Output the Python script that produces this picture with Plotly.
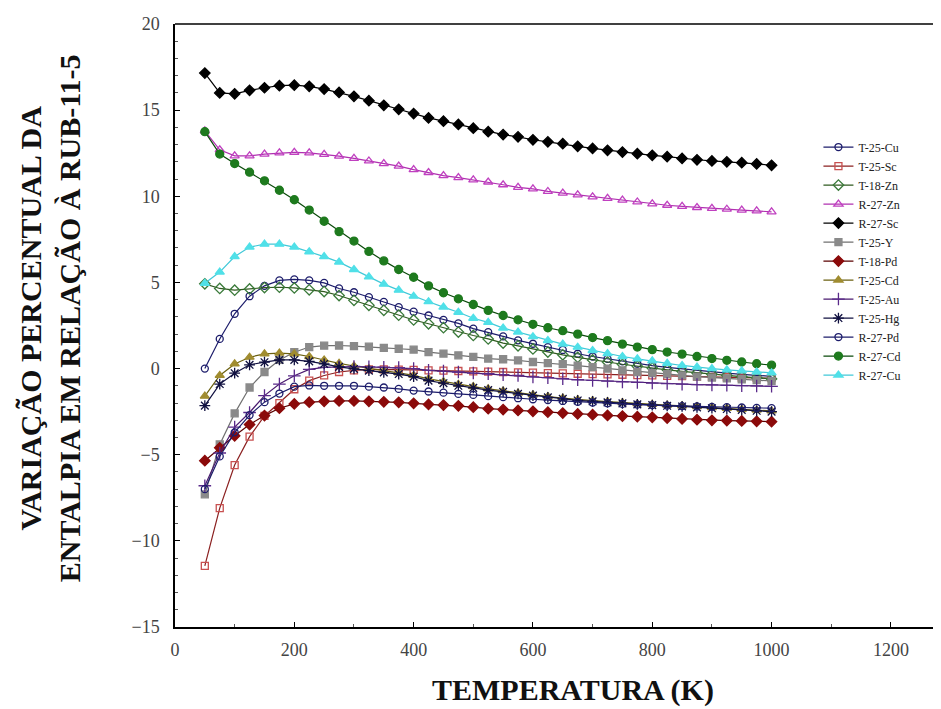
import plotly.graph_objects as go

temperatura = [50, 75, 100, 125, 150, 175, 200, 225, 250, 275, 300, 325, 350, 375, 400,
               425, 450, 475, 500, 525, 550, 575, 600, 625, 650, 675, 700, 725, 750, 775,
               800, 825, 850, 875, 900, 925, 950, 975, 1000]

t25_cu = [0.0, 1.72, 3.18, 4.2, 4.8, 5.12, 5.18, 5.12, 4.97, 4.65, 4.43, 4.15, 3.87, 3.57, 3.3,
          3.08, 2.83, 2.62, 2.32, 2.11, 1.87, 1.64, 1.44, 1.24, 1.08, 0.86, 0.7, 0.56, 0.42, 0.28,
          0.17, 0.07, -0.02, -0.12, -0.2, -0.27, -0.34, -0.4, -0.45]
t25_sc = [-11.45, -8.1, -5.6, -3.95, -2.75, -2.0, -1.2, -0.7, -0.4, -0.2, -0.1, -0.05, -0.05, -0.06, -0.08,
          -0.1, -0.12, -0.14, -0.16, -0.18, -0.2, -0.22, -0.24, -0.26, -0.28, -0.3, -0.32, -0.34, -0.36, -0.38,
          -0.4, -0.42, -0.44, -0.46, -0.48, -0.5, -0.52, -0.54, -0.56]
t18_zn = [4.92, 4.65, 4.55, 4.62, 4.7, 4.72, 4.68, 4.57, 4.47, 4.24, 3.96, 3.67, 3.38, 3.1, 2.82,
          2.6, 2.37, 2.12, 1.92, 1.72, 1.48, 1.32, 1.14, 0.96, 0.8, 0.65, 0.5, 0.38, 0.25, 0.13,
          0.03, -0.07, -0.16, -0.25, -0.33, -0.4, -0.47, -0.53, -0.6]
r27_zn = [13.8, 12.7, 12.35, 12.35, 12.45, 12.52, 12.55, 12.52, 12.43, 12.33, 12.2, 12.05, 11.9, 11.75, 11.55,
          11.38, 11.2, 11.08, 10.95, 10.83, 10.67, 10.52, 10.43, 10.28, 10.18, 10.08, 9.97, 9.88, 9.78, 9.67,
          9.56, 9.48, 9.42, 9.35, 9.3, 9.25, 9.2, 9.15, 9.1]
r27_sc = [17.15, 16.0, 15.95, 16.15, 16.3, 16.42, 16.45, 16.38, 16.22, 16.03, 15.8, 15.55, 15.28, 15.05, 14.8,
          14.55, 14.36, 14.17, 13.95, 13.75, 13.58, 13.45, 13.28, 13.16, 13.05, 12.9, 12.78, 12.67, 12.57, 12.47,
          12.38, 12.3, 12.2, 12.12, 12.05, 12.0, 11.95, 11.88, 11.8]
t25_y = [-7.3, -4.4, -2.6, -1.1, -0.2, 0.5, 0.95, 1.25, 1.33, 1.34, 1.3, 1.27, 1.2, 1.15, 1.1,
         0.95, 0.87, 0.77, 0.68, 0.58, 0.54, 0.47, 0.38, 0.32, 0.26, 0.17, 0.08, 0.0, -0.1, -0.2,
         -0.27, -0.32, -0.4, -0.47, -0.52, -0.57, -0.62, -0.67, -0.72]
t18_pd = [-5.35, -4.6, -3.9, -3.25, -2.73, -2.3, -2.05, -1.95, -1.9, -1.88, -1.88, -1.9, -1.93, -1.96, -2.02,
          -2.08, -2.12, -2.16, -2.24, -2.33, -2.38, -2.43, -2.48, -2.53, -2.58, -2.63, -2.68, -2.72, -2.76, -2.79,
          -2.83, -2.87, -2.92, -2.97, -3.0, -3.02, -3.04, -3.06, -3.08]
t25_cd = [-1.6, -0.4, 0.27, 0.66, 0.85, 0.9, 0.85, 0.7, 0.5, 0.3, 0.15, 0.0, -0.12, -0.25, -0.4,
          -0.6, -0.76, -0.92, -1.05, -1.18, -1.3, -1.42, -1.52, -1.62, -1.71, -1.8, -1.86, -1.92, -1.98, -2.04,
          -2.08, -2.12, -2.16, -2.21, -2.26, -2.31, -2.36, -2.41, -2.46]
t25_au = [-6.8, -4.9, -3.4, -2.55, -1.57, -0.9, -0.42, -0.05, 0.07, 0.1, 0.12, 0.1, 0.08, 0.06, 0.0,
          -0.1, -0.15, -0.2, -0.26, -0.3, -0.35, -0.4, -0.48, -0.53, -0.59, -0.65, -0.69, -0.73, -0.77, -0.8,
          -0.84, -0.87, -0.9, -0.93, -0.95, -0.97, -0.99, -1.01, -1.03]
t25_hg = [-2.15, -0.9, -0.27, 0.22, 0.37, 0.5, 0.5, 0.42, 0.27, 0.1, -0.02, -0.12, -0.22, -0.32, -0.47,
          -0.7, -0.85, -1.0, -1.12, -1.25, -1.35, -1.47, -1.57, -1.67, -1.76, -1.85, -1.9, -1.96, -2.02, -2.08,
          -2.12, -2.16, -2.2, -2.25, -2.3, -2.35, -2.4, -2.45, -2.5]
r27_pd = [-7.0, -5.1, -3.7, -2.7, -1.95, -1.45, -1.05, -0.98, -1.0, -1.0, -1.0, -1.05, -1.1, -1.18, -1.28,
          -1.33, -1.4, -1.47, -1.53, -1.6, -1.66, -1.72, -1.78, -1.83, -1.88, -1.93, -1.97, -2.01, -2.05, -2.09,
          -2.12, -2.15, -2.18, -2.2, -2.22, -2.24, -2.26, -2.28, -2.3]
r27_cd = [13.75, 12.45, 11.9, 11.4, 10.9, 10.35, 9.8, 9.2, 8.55, 7.95, 7.4, 6.8, 6.25, 5.75, 5.3,
          4.8, 4.4, 4.05, 3.72, 3.38, 3.08, 2.83, 2.57, 2.37, 2.2, 2.0, 1.8, 1.62, 1.42, 1.25,
          1.1, 0.96, 0.84, 0.7, 0.58, 0.48, 0.38, 0.28, 0.2]
r27_cu = [4.95, 5.6, 6.5, 7.05, 7.22, 7.22, 7.05, 6.78, 6.5, 6.18, 5.75, 5.32, 4.9, 4.55, 4.2,
          3.88, 3.57, 3.27, 2.92, 2.68, 2.35, 2.12, 1.85, 1.63, 1.42, 1.24, 1.05, 0.87, 0.7, 0.56,
          0.45, 0.3, 0.18, 0.08, 0.0, -0.07, -0.13, -0.2, -0.25]

series_names = ["T-25-Cu", "T-25-Sc", "T-18-Zn", "R-27-Zn", "R-27-Sc", "T-25-Y", "T-18-Pd",
                "T-25-Cd", "T-25-Au", "T-25-Hg", "R-27-Pd", "R-27-Cd", "R-27-Cu"]
series_values = [t25_cu, t25_sc, t18_zn, r27_zn, r27_sc, t25_y, t18_pd,
                 t25_cd, t25_au, t25_hg, r27_pd, r27_cd, r27_cu]

x_ticks = [0, 200, 400, 600, 800, 1000, 1200]
y_ticks = [-15, -10, -5, 0, 5, 10, 15, 20]

# style: (line color, marker color, marker symbol, size)
styles = [
    ("#1c1c6b", "#1c1c6b", "circle-open", 7),
    ("#8b2020", "#c85050", "square-open", 7),
    ("#2f5a1f", "#3a7a3a", "diamond-open", 8),
    ("#b030b0", "#c040c0", "triangle-up-open", 8),
    ("#000000", "#000000", "diamond", 8),
    ("#707070", "#8a8a8a", "square", 7),
    ("#5a0000", "#8b0a0a", "diamond", 8),
    ("#6b6010", "#a08c30", "triangle-up", 8),
    ("#4a1a70", "#5a2a8a", "cross-thin-open", 9),
    ("#101040", "#101040", "asterisk-open", 9),
    ("#1c1c6b", "#1c1c6b", "circle-open", 7),
    ("#0a4a0a", "#1e7a1e", "circle", 8),
    ("#40c8d8", "#50e0e8", "triangle-up", 8),
]

fig = go.Figure()
for name, vals, (lc, mc, sym, sz) in zip(series_names, series_values, styles):
    fig.add_trace(go.Scatter(
        x=temperatura, y=vals, name=name, mode="lines+markers",
        line=dict(color=lc, width=1.2),
        marker=dict(color=mc, symbol=sym, size=sz, line=dict(color=mc, width=1.3)),
    ))

tick_font = dict(family="Liberation Serif", size=18, color="#444444")

# page body has an 8px default margin: figure is 8px smaller on each used side
fig.update_layout(
    width=933, height=701,
    margin=dict(l=167, r=0, t=16, b=82),
    paper_bgcolor="white", plot_bgcolor="white",
    showlegend=True,
    legend=dict(x=0.84, y=0.82, xanchor="left", yanchor="top",
                bgcolor="rgba(0,0,0,0)", borderwidth=0,
                font=dict(family="Liberation Serif", size=12, color="#222222"),
                tracegroupgap=0, itemwidth=30),
    xaxis=dict(range=[0, 1284], tickvals=x_ticks,
               ticks="inside", ticklen=5, tickcolor="#000", showgrid=False, zeroline=False,
               showline=True, linecolor="#000", linewidth=1.5, mirror=False,
               minor=dict(ticks="inside", ticklen=3, dtick=100, tickcolor="#555"),
               tickfont=tick_font, ticklabelstandoff=6),
    yaxis=dict(range=[-15, 20], tickvals=y_ticks,
               ticks="inside", ticklen=5, tickcolor="#000", showgrid=False, zeroline=False,
               showline=True, linecolor="#000", linewidth=1.5, mirror=False,
               minor=dict(ticks="inside", ticklen=3, dtick=1, tickcolor="#555"),
               tickfont=tick_font, ticklabelstandoff=10),
)

# top frame line
fig.add_shape(type="line", xref="paper", yref="paper", x0=0, x1=1, y0=1, y1=1,
              line=dict(color="#000", width=1.5))

fig.add_annotation(text="<b>TEMPERATURA (K)</b>", xref="paper", yref="paper",
                   x=0.52, y=-0.1045, xanchor="center", yanchor="middle", showarrow=False,
                   font=dict(family="Liberation Serif", size=30, color="#111111"))
fig.add_annotation(text="<b>VARIAÇÃO PERCENTUAL DA<br>ENTALPIA EM RELAÇÃO À RUB-11-5</b>",
                   xref="paper", yref="paper", x=-0.1632, y=0.512, xanchor="center", yanchor="middle",
                   textangle=-90, showarrow=False, align="center",
                   font=dict(family="Liberation Serif", size=30, color="#111111"))

fig.write_html("out.html")
